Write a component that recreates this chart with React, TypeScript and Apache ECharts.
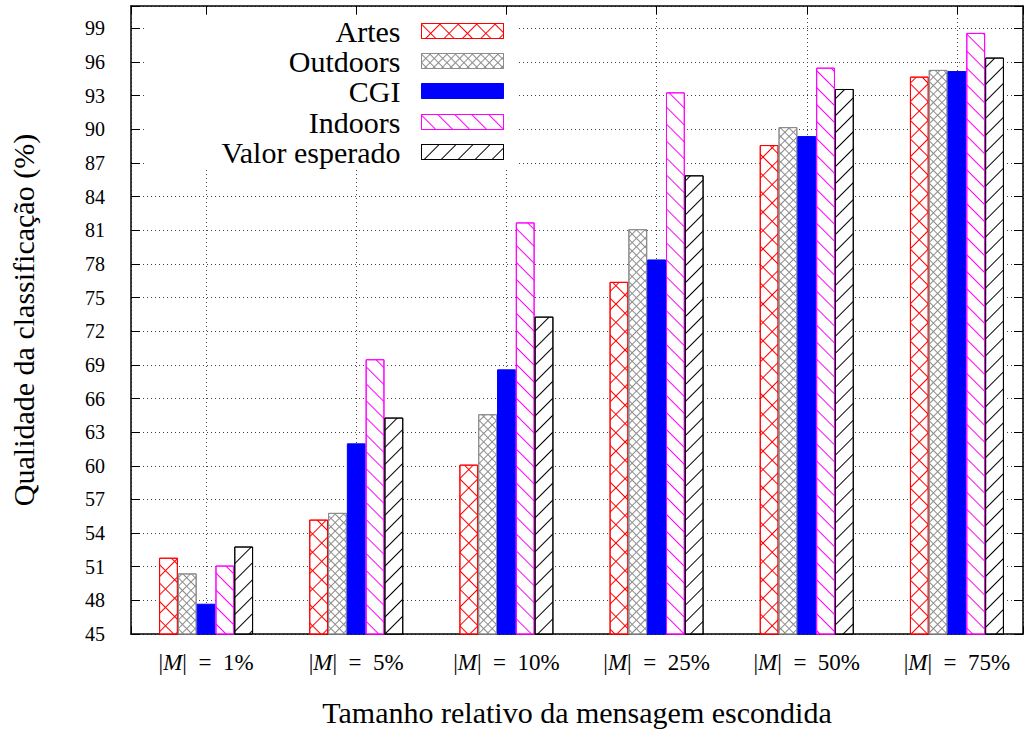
import React, { useEffect, useRef } from "react";
import * as echarts from "echarts";

const categories = ["1%", "5%", "10%", "25%", "50%", "75%"];
const seriesNames = ["Artes", "Outdoors", "CGI", "Indoors", "Valor esperado"];
const artes = [51.8, 55.2, 60.1, 76.4, 88.6, 94.7];
const outdoors = [50.4, 55.8, 64.6, 81.1, 90.2, 95.3];
const cgi = [47.7, 62.0, 68.6, 78.4, 89.4, 95.2];
const indoors = [51.1, 69.5, 81.7, 93.3, 95.5, 98.6];
const valorEsperado = [52.8, 64.3, 73.3, 85.9, 93.6, 96.4];
const allValues = [artes, outdoors, cgi, indoors, valorEsperado];

const FONT = "Liberation Serif, serif";

const borderColors = ["#ff0000", "#8c8c8c", "#0000ff", "#ff00ff", "#000000"];
const fillColors = ["#ffffff", "#ffffff", "#0000ff", "#ffffff", "#ffffff"];
const decals: any[] = [
  {
    symbol: "path://M0 0H13V1H1V13H0Z",
    symbolSize: 1,
    color: "#ff0000",
    dashArrayX: [13, 0],
    dashArrayY: [13, 0],
    rotation: Math.PI / 4,
  },
  {
    symbol: "path://M0 0H6V1H1V6H0Z",
    symbolSize: 1,
    color: "#8c8c8c",
    dashArrayX: [6, 0],
    dashArrayY: [6, 0],
    rotation: Math.PI / 4,
  },
  null,
  {
    symbol: "rect",
    symbolSize: 1,
    color: "#ff00ff",
    dashArrayX: [1, 0],
    dashArrayY: [1, 11],
    rotation: Math.PI / 4,
  },
  {
    symbol: "rect",
    symbolSize: 1,
    color: "#000000",
    dashArrayX: [1, 0],
    dashArrayY: [1, 11],
    rotation: -Math.PI / 4,
  },
];
const legendRowCenters = [31, 61, 91, 122, 152];

export default function App() {
  const ref = useRef<HTMLDivElement>(null);
  useEffect(() => {
    if (!ref.current) return;
    const chart = echarts.init(ref.current, null, { renderer: "svg" });
    const gridLine = { show: true, lineStyle: { type: [1, 3], color: "#444", width: 1 } };
    const axisLine = { show: true, onZero: false, lineStyle: { color: "#000", width: 1.5 } };
    const series = seriesNames.map((name, s) => ({
      name,
      type: "bar",
      barWidth: 18.8,
      barGap: "0%",
      xAxisIndex: 0,
      yAxisIndex: 0,
      z: 3,
      itemStyle: {
        color: fillColors[s],
        borderColor: borderColors[s],
        borderWidth: 1,
        ...(decals[s] ? { decal: decals[s] } : {}),
      },
      data: allValues[s].map((v, i) => [i, v]),
    }));
    const legends = seriesNames.map((name, s) => ({
      data: [name],
      orient: "vertical",
      right: 522,
      top: legendRowCenters[s] - 15,
      align: "right",
      icon: "rect",
      itemWidth: 82,
      itemHeight: 15,
      padding: 0,
      selectedMode: false,
      z: 5,
      textStyle: { fontFamily: FONT, fontSize: 30, color: "#000", padding: [0, 16, 0, 0] },
      itemStyle: {
        color: fillColors[s],
        borderColor: borderColors[s],
        borderWidth: 1,
      },
    }));
    chart.setOption({
      animation: false,
      backgroundColor: "#fff",
      textStyle: { fontFamily: FONT },
      grid: { left: 131, right: 3, top: 6, bottom: 91 },
      legend: legends,
      xAxis: [
        {
          type: "value",
          position: "bottom",
          min: -0.5,
          max: 5.44,
          axisLine,
          axisTick: { show: true, inside: true, length: 8, lineStyle: { color: "#000" } },
          splitLine: gridLine,
          axisLabel: {
            margin: 17,
            fontFamily: FONT,
            fontSize: 23,
            color: "#000",
            formatter: (v: number) => {
              const i = Math.round(v);
              if (Math.abs(v - i) > 1e-6 || i < 0 || i >= categories.length) return "";
              return "|{i|M}|  =  " + categories[i];
            },
            rich: { i: { fontStyle: "italic", fontFamily: FONT, fontSize: 23, color: "#000" } },
          },
          name: "Tamanho relativo da mensagem escondida",
          nameLocation: "middle",
          nameGap: 63,
          nameTextStyle: { fontFamily: FONT, fontSize: 30, color: "#000" },
        },
        {
          type: "value",
          position: "top",
          min: -0.5,
          max: 5.44,
          axisLine,
          axisTick: { show: true, inside: true, length: 8, lineStyle: { color: "#000" } },
          splitLine: { show: false },
          axisLabel: { show: false },
        },
      ],
      yAxis: [
        {
          type: "value",
          position: "left",
          min: 45,
          max: 101,
          interval: 3,
          axisLine,
          axisTick: { show: true, inside: true, length: 9, lineStyle: { color: "#000" } },
          splitLine: gridLine,
          axisLabel: {
            margin: 26,
            fontFamily: FONT,
            fontSize: 20,
            color: "#000",
            formatter: (v: number) => (v > 99.5 ? "" : String(v)),
          },
          name: "Qualidade da classificação (%)",
          nameLocation: "middle",
          nameGap: 93,
          nameTextStyle: { fontFamily: FONT, fontSize: 30, color: "#000" },
        },
        {
          type: "value",
          position: "right",
          min: 45,
          max: 101,
          interval: 3,
          axisLine,
          axisTick: { show: true, inside: true, length: 9, lineStyle: { color: "#000" } },
          splitLine: { show: false },
          axisLabel: { show: false },
        },
      ],
      graphic: [
        {
          type: "rect",
          z: 1,
          shape: { x: 147, y: 16, width: 372, height: 151 },
          style: { fill: "#fff" },
        },
      ],
      series,
    } as any);
    return () => chart.dispose();
  }, []);
  return <div ref={ref} style={{ width: 1026, height: 732, position: "absolute", left: 0, top: 0 }} />;
}
